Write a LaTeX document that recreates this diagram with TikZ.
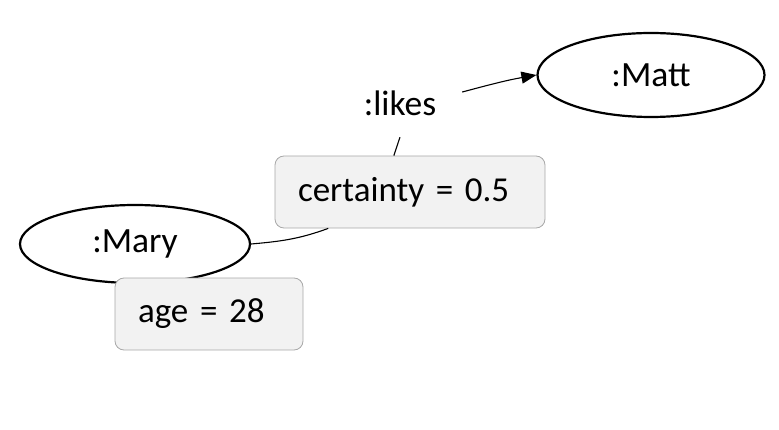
\documentclass[tikz,border=0pt]{standalone}
\usepackage{fontspec}
\setmainfont{Carlito}
\usetikzlibrary{arrows.meta,shapes.geometric}
\definecolor{propfill}{RGB}{242,242,242}
\definecolor{propline}{RGB}{168,168,168}
\tikzset{
    entity/.style={ellipse, draw, line width=2.2pt, minimum width=230pt, minimum height=78pt, inner sep=0pt, font=\fontsize{35.5}{42}\selectfont}, % 节点
    prop/.style={draw=propline, fill=propfill, rounded corners=9pt, line width=0.8pt, minimum height=72pt, inner xsep=23pt, align=left, font=\fontsize{35}{42}\selectfont}, % 属性框
    link/.style={line width=1.1pt}
}
\begin{document}
\begin{tikzpicture}[x=1pt, y=1pt]
    \useasboundingbox (0,0) rectangle (779,429);

    \node[entity] (mary) at (135,185) {:Mary};
    \node[entity, minimum width=227pt, minimum height=84pt] (matt) at (651,354) {:Matt};
    \node[prop, text width=142pt] (age) at (209,115) {\raisebox{-3pt}{age = 28}};
    \node[prop, text width=224pt] (cert) at (410,237) {\raisebox{-3pt}{certainty = 0.5}};
    \node[font=\fontsize{35.5}{42}\selectfont, minimum width=124pt, minimum height=68pt, inner sep=0pt] (likes) at (400,326) {:likes};

    \draw[link] (mary.east) to[out=5, in=200] (cert.204);
    \draw[link] (cert.114) to[out=70, in=-110] (likes.south);
    \draw[link, -{Triangle[length=15pt, width=12pt]}] (likes.10) to[out=15, in=190] (matt.west);
\end{tikzpicture}
\end{document}
